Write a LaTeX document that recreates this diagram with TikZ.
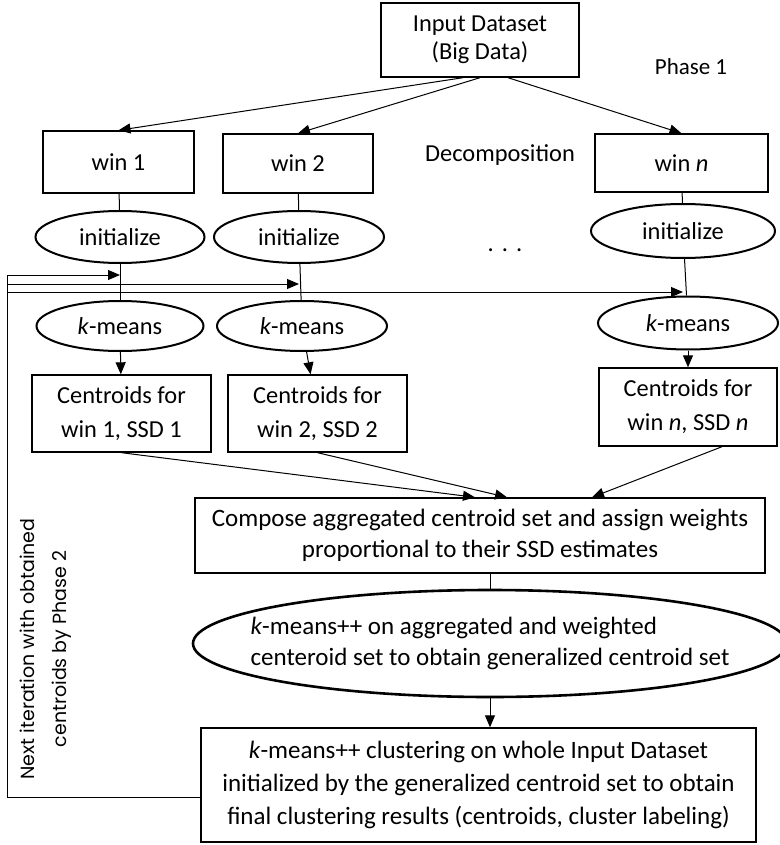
\documentclass[tikz,border=0pt]{standalone}
\usepackage{fontspec}
\setmainfont{Carlito}
\newfontfamily\sidefont{Poppins}
\usetikzlibrary{arrows.meta,shapes.geometric}
\tikzset{px/.style={x=.5pt,y=-.5pt,line width=.5pt,font=\fontsize{12.2}{17}\selectfont,>={Triangle[length=6pt,width=5pt]}},
  blk/.style={draw,line width=.7pt,inner sep=0pt,align=center},
  ovl/.style={draw,ellipse,line width=1pt,inner sep=0pt,align=center},
  big/.style={font=\fontsize{12.5}{15.5}\selectfont}}

\begin{document}
\begin{tikzpicture}[px]
  \useasboundingbox (0,0) rectangle (780,845);
  % phase 1: split into windows
  \node[blk,minimum width=99pt,minimum height=37pt,font=\fontsize{12.2}{14}\selectfont] (in) at (480,40) {Input Dataset\\(Big Data)};
  \node[font=\fontsize{11.5}{14}\selectfont] (ph) at (691,67) {Phase 1};
  \node[blk,minimum width=75.5pt,minimum height=31pt] (w1) at (118.5,162) {win 1};
  \node[blk,minimum width=75pt,minimum height=29.5pt] (w2) at (298,163.5) {win 2};
  \node[blk,minimum width=86.5pt,minimum height=29pt] (wn) at (681.5,163) {win \textit{n}};
  \node (dec) at (500,155) {Decomposition};
  \node[ovl,minimum width=84.5pt,minimum height=26pt] (i1) at (120,237) {initialize};
  \node[ovl,minimum width=85pt,minimum height=26pt] (i2) at (299,237) {initialize};
  \node[ovl,minimum width=92pt,minimum height=27pt] (in_n) at (683,231) {initialize};
  \node (dots) at (505,250) {.\,\,.\,\,.};
  \node[ovl,minimum width=83.5pt,minimum height=25pt] (k1) at (120,326) {\textit{k}-means};
  \node[ovl,minimum width=85pt,minimum height=25pt] (k2) at (302,326) {\textit{k}-means};
  \node[ovl,minimum width=90pt,minimum height=26.5pt] (kn) at (688,323) {\textit{k}-means};
  \node[blk,minimum width=89.5pt,minimum height=38.5pt] (c1) at (121.5,413.5) {Centroids for\\win 1, SSD 1};
  \node[blk,minimum width=89.5pt,minimum height=38.5pt] (c2) at (317.5,413.5) {Centroids for\\win 2, SSD 2};
  \node[blk,minimum width=89pt,minimum height=39pt] (cn) at (688,407) {Centroids for\\win \textit{n}, SSD \textit{n}};
  % phase 2: merge
  \node[blk,big,minimum width=285pt,minimum height=37.5pt] (comp) at (480,535.5)
    {Compose aggregated centroid set and assign weights\\proportional to their SSD estimates};
  \node[ovl,big,line width=1.3pt,inner xsep=-20pt,minimum width=297pt,minimum height=53.5pt,align=left] (gen) at (490,643.5)
    {\textit{k}-means++ on aggregated and weighted\\centeroid set to obtain generalized centroid set};
  \node[blk,big,minimum width=277.5pt,minimum height=57pt,font=\fontsize{12.5}{16.5}\selectfont] (fin) at (478.5,785)
    {\textit{k}-means++ clustering on whole Input Dataset\\initialized by the generalized centroid set to obtain\\final clustering results (centroids, cluster labeling)};
  \node[rotate=90,align=center,font=\sidefont\fontsize{9.5}{16}\selectfont] (nxt) at (46,649)
    {Next iteration with obtained\\centroids by Phase 2};
  % connectors
  \draw[->] ([xshift=-8.5pt]in.south) -- (w1.north);
  \draw[->] (in.south) -- (w2.north);
  \draw[->] ([xshift=14pt]in.south) -- (wn.north);
  \draw (w1) -- (i1);
  \draw (w2) -- (i2);
  \draw (wn) -- (in_n);
  \draw (i1) -- (k1);
  \draw (i2) -- (k2);
  \draw (in_n) -- (kn);
  \draw[->] (k1) -- (c1);
  \draw[->] (k2) -- (c2);
  \draw[->] (kn) -- (cn);
  % feedback loop
  \coordinate (lp0) at (7,797);
  \coordinate (lp1) at (7,275);
  \coordinate (lp2) at (7,284);
  \coordinate (lp3) at (7,292);
  \draw (fin.west |- lp0) -- (lp0) -- (lp1);
  \draw[->] (lp1) -- (lp1 -| i1.south);
  \draw[->] (lp2) -- (lp2 -| i2.south);
  \draw[->] (lp3) -- (lp3 -| in_n.south);
  \draw[->] (c1.south) -- ([xshift=-2.5pt]comp.north);
  \draw[->] (c2.south) -- ([xshift=13.5pt]comp.north);
  \draw[->] ([xshift=17pt]cn.south) -- ([xshift=56pt]comp.north);
  \draw (comp.south -| gen.north) -- (gen.north);
  \draw[->] (gen.south) -- (gen.south |- fin.north);
\end{tikzpicture}
\end{document}
